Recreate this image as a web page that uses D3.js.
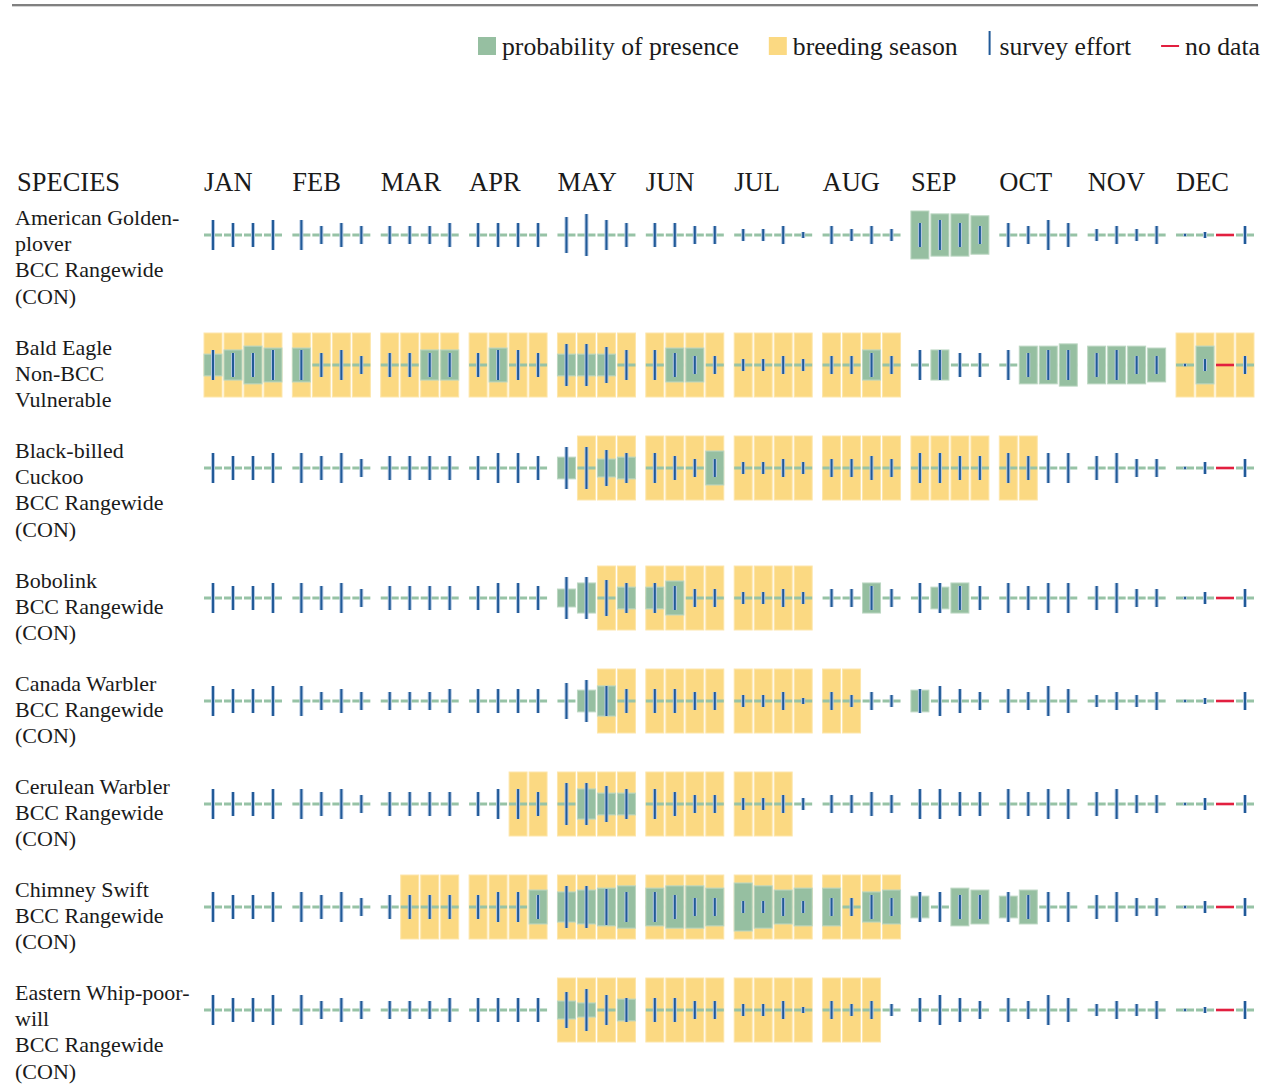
<!DOCTYPE html>
<html><head><meta charset="utf-8">
<script src="https://cdn.jsdelivr.net/npm/d3@7"></script>
<style>
body{margin:0;background:#fff}
svg{display:block}
text{font-family:"Liberation Serif","Times New Roman",serif;fill:#1a1a1a}
</style>
</head><body>
<svg id="chart" width="1272" height="1084"></svg>
<script>
// ---------------- DATA ----------------
const months = ["JAN","FEB","MAR","APR","MAY","JUN","JUL","AUG","SEP","OCT","NOV","DEC"];
const weeks = [0,1,2,3];
const headerLabel = "SPECIES";

const speciesLabels = [
  ["American Golden-","plover","BCC Rangewide","(CON)"],
  ["Bald Eagle","Non-BCC","Vulnerable"],
  ["Black-billed","Cuckoo","BCC Rangewide","(CON)"],
  ["Bobolink","BCC Rangewide","(CON)"],
  ["Canada Warbler","BCC Rangewide","(CON)"],
  ["Cerulean Warbler","BCC Rangewide","(CON)"],
  ["Chimney Swift","BCC Rangewide","(CON)"],
  ["Eastern Whip-poor-","will","BCC Rangewide","(CON)"]
];

// probability of presence per week (12 months x 4 weeks), fraction 0..1
const probGoldenPlover = [0,0,0,0, 0,0,0,0, 0,0,0,0, 0,0,0,0, 0,0,0,0, 0,0,0,0, 0,0,0,0, 0,0,0,0, .75,.66,.66,.60, 0,0,0,0, 0,0,0,0, 0,0,0,0];
const probBaldEagle    = [.34,.47,.59,.53, .53,0,0,0, 0,0,.47,.47, 0,.53,0,0, .34,.34,.34,0, 0,.53,.53,0, 0,0,0,0, 0,0,.47,0, 0,.47,0,0, 0,.59,.59,.66, .59,.59,.59,.53, 0,.59,0,0];
const probCuckoo       = [0,0,0,0, 0,0,0,0, 0,0,0,0, 0,0,0,0, .34,0,.28,.34, 0,0,0,.53, 0,0,0,0, 0,0,0,0, 0,0,0,0, 0,0,0,0, 0,0,0,0, 0,0,0,0];
const probBobolink     = [0,0,0,0, 0,0,0,0, 0,0,0,0, 0,0,0,0, .28,.47,0,.34, .34,.53,0,0, 0,0,0,0, 0,0,.47,0, 0,.34,.47,0, 0,0,0,0, 0,0,0,0, 0,0,0,0];
const probCanadaWarb   = [0,0,0,0, 0,0,0,0, 0,0,0,0, 0,0,0,0, 0,.34,.47,0, 0,0,0,0, 0,0,0,0, 0,0,0,0, .34,0,0,0, 0,0,0,0, 0,0,0,0, 0,0,0,0];
const probCeruleanWarb = [0,0,0,0, 0,0,0,0, 0,0,0,0, 0,0,0,0, 0,.47,.34,.34, 0,0,0,0, 0,0,0,0, 0,0,0,0, 0,0,0,0, 0,0,0,0, 0,0,0,0, 0,0,0,0];
const probChimneySwift = [0,0,0,0, 0,0,0,0, 0,0,0,0, 0,0,0,.53, .47,.53,.59,.66, .59,.66,.66,.59, .75,.66,.53,.59, .59,0,.47,.53, .34,0,.59,.53, .34,.53,0,0, 0,0,0,0, 0,0,0,0];
const probWhipPoorWill = [0,0,0,0, 0,0,0,0, 0,0,0,0, 0,0,0,0, .28,.22,0,.34, 0,0,0,0, 0,0,0,0, 0,0,0,0, 0,0,0,0, 0,0,0,0, 0,0,0,0, 0,0,0,0];

// survey effort per week (relative level)
const surveyGoldenPlover = [5,4,4,5, 5,3,4,3, 3,3,3,4, 4,4,4,4, 6,7,5,4, 4,4,3,3, 2,2,3,1, 3,2,3,2, 4,5,4,3, 4,3,5,4, 2,3,2,3, .4,1,0,3];
const surveyBaldEagle    = [5,4,4,5, 5,4,5,3, 4,4,4,4, 4,5,5,4, 7,7,6,5, 5,4,3,3, 2,2,3,2, 3,3,4,3, 5,5,4,4, 5,4,5,5, 4,5,3,3, .4,2,0,3];
const surveyCuckoo       = [5,4,4,5, 5,4,5,3, 4,4,4,4, 4,5,5,4, 7,7,6,5, 5,4,3,3, 2,2,3,2, 3,3,4,3, 5,5,4,4, 5,4,5,5, 4,5,3,3, .4,2,0,3];
const surveyBobolink     = [5,4,4,5, 5,4,5,3, 4,4,4,4, 4,5,5,4, 7,7,6,5, 5,4,3,3, 2,2,3,2, 3,3,4,3, 5,5,4,4, 5,4,5,5, 4,5,3,3, .4,2,0,3];
const surveyCanadaWarb   = [5,4,4,5, 5,3,4,3, 3,3,3,4, 4,4,4,4, 6,7,5,4, 4,4,3,3, 2,2,3,1, 3,2,3,2, 4,5,4,3, 4,3,5,4, 2,3,2,3, .4,1,0,3];
const surveyCeruleanWarb = [5,4,4,5, 5,4,5,3, 4,4,4,4, 4,5,5,4, 7,7,6,5, 5,4,3,3, 2,2,3,2, 3,3,4,3, 5,5,4,4, 5,4,5,5, 4,5,3,3, .4,2,0,3];
const surveyChimneySwift = [5,4,4,5, 5,4,5,3, 4,4,4,4, 4,5,5,4, 7,7,6,5, 5,4,3,3, 2,2,3,2, 3,3,4,3, 5,5,4,4, 5,4,5,5, 4,5,3,3, .4,2,0,3];
const surveyWhipPoorWill = [5,4,4,5, 5,3,4,3, 3,3,3,4, 4,4,4,4, 6,7,5,4, 4,4,3,3, 2,2,3,1, 3,2,3,2, 4,5,4,3, 4,3,5,4, 2,3,2,3, .4,1,0,3];

// breeding season flag per week
const breedGoldenPlover = [0,0,0,0, 0,0,0,0, 0,0,0,0, 0,0,0,0, 0,0,0,0, 0,0,0,0, 0,0,0,0, 0,0,0,0, 0,0,0,0, 0,0,0,0, 0,0,0,0, 0,0,0,0];
const breedBaldEagle    = [1,1,1,1, 1,1,1,1, 1,1,1,1, 1,1,1,1, 1,1,1,1, 1,1,1,1, 1,1,1,1, 1,1,1,1, 0,0,0,0, 0,0,0,0, 0,0,0,0, 1,1,1,1];
const breedCuckoo       = [0,0,0,0, 0,0,0,0, 0,0,0,0, 0,0,0,0, 0,1,1,1, 1,1,1,1, 1,1,1,1, 1,1,1,1, 1,1,1,1, 1,1,0,0, 0,0,0,0, 0,0,0,0];
const breedBobolink     = [0,0,0,0, 0,0,0,0, 0,0,0,0, 0,0,0,0, 0,0,1,1, 1,1,1,1, 1,1,1,1, 0,0,0,0, 0,0,0,0, 0,0,0,0, 0,0,0,0, 0,0,0,0];
const breedCanadaWarb   = [0,0,0,0, 0,0,0,0, 0,0,0,0, 0,0,0,0, 0,0,1,1, 1,1,1,1, 1,1,1,1, 1,1,0,0, 0,0,0,0, 0,0,0,0, 0,0,0,0, 0,0,0,0];
const breedCeruleanWarb = [0,0,0,0, 0,0,0,0, 0,0,0,0, 0,0,1,1, 1,1,1,1, 1,1,1,1, 1,1,1,0, 0,0,0,0, 0,0,0,0, 0,0,0,0, 0,0,0,0, 0,0,0,0];
const breedChimneySwift = [0,0,0,0, 0,0,0,0, 0,1,1,1, 1,1,1,1, 1,1,1,1, 1,1,1,1, 1,1,1,1, 1,1,1,1, 0,0,0,0, 0,0,0,0, 0,0,0,0, 0,0,0,0];
const breedWhipPoorWill = [0,0,0,0, 0,0,0,0, 0,0,0,0, 0,0,0,0, 1,1,1,1, 1,1,1,1, 1,1,1,1, 1,1,1,0, 0,0,0,0, 0,0,0,0, 0,0,0,0, 0,0,0,0];

// no-data flag per week (same for all species: 3rd week of December)
const noDataWeeks = [0,0,0,0, 0,0,0,0, 0,0,0,0, 0,0,0,0, 0,0,0,0, 0,0,0,0, 0,0,0,0, 0,0,0,0, 0,0,0,0, 0,0,0,0, 0,0,0,0, 0,0,1,0];

const legendLabels = ["probability of presence","breeding season","survey effort","no data"];

const probabilitySeries = [probGoldenPlover,probBaldEagle,probCuckoo,probBobolink,probCanadaWarb,probCeruleanWarb,probChimneySwift,probWhipPoorWill];
const surveySeries = [surveyGoldenPlover,surveyBaldEagle,surveyCuckoo,surveyBobolink,surveyCanadaWarb,surveyCeruleanWarb,surveyChimneySwift,surveyWhipPoorWill];
const breedingSeries = [breedGoldenPlover,breedBaldEagle,breedCuckoo,breedBobolink,breedCanadaWarb,breedCeruleanWarb,breedChimneySwift,breedWhipPoorWill];

// ---------------- STYLE / LAYOUT ----------------
const FONT = '"Liberation Serif","Times New Roman",serif';
const C = {green:"#96bfa1", greenEdge:"#bcd7c2", base:"#97c3a6", yellow:"#fbd982", yellowEdge:"#fde6ab",
           blue:"#215a98", blueHalo:"#b4c8e2", red:"#e21f3f", text:"#1a1a1a"};
const svg = d3.select("#chart");

const xMonth = d3.scaleBand().domain(months).range([204,1254]).paddingInner(0.1176).paddingOuter(0);
const xWeek = d3.scaleBand().domain(weeks).range([0, xMonth.bandwidth()]).paddingInner(0.1).paddingOuter(0);
const cellH = 64;
const yProb = d3.scaleLinear().domain([0,1]).range([0,cellH]);
const ySurvey = d3.scaleLinear().domain([0,7]).range([0,42]);

// top rule
svg.append("rect").attr("x",12).attr("y",4).attr("width",1246).attr("height",2).attr("fill","#808080");
svg.append("rect").attr("x",12).attr("y",6).attr("width",1246).attr("height",1).attr("fill","#d4d4d4");

// legend
const legend = svg.append("g").attr("transform","translate(478,0)");
let lx = 0;
legendLabels.forEach((lab,i)=>{
  const g = legend.append("g").attr("transform",`translate(${lx},0)`);
  let sw = 18;
  if(i===0) g.append("rect").attr("x",0).attr("y",37).attr("width",18).attr("height",18).attr("fill",C.green);
  if(i===1) g.append("rect").attr("x",0).attr("y",37).attr("width",18).attr("height",18).attr("fill",C.yellow);
  if(i===2){ sw = 6; g.append("rect").attr("x",1).attr("y",31).attr("width",2).attr("height",24).attr("fill",C.blue); }
  if(i===3) g.append("rect").attr("x",0).attr("y",45).attr("width",18).attr("height",2).attr("fill",C.red);
  const t = g.append("text").attr("x",sw+6).attr("y",55).attr("font-family",FONT).attr("font-size","25.7px").text(lab);
  lx += sw + 6 + t.node().getComputedTextLength() + 30;
});

// header
svg.append("text").attr("x",17).attr("y",191).attr("font-family",FONT).attr("font-size","26.5px").text(headerLabel);
svg.selectAll("text.month").data(months).join("text").attr("class","month")
  .attr("x",d=>xMonth(d)).attr("y",191).attr("font-family",FONT).attr("font-size","26.5px").text(d=>d);

// rows
let rowCursor = 203;
const rowTops = speciesLabels.map(lines=>{ const t = rowCursor; rowCursor += lines.length*27 + 22; return t; });

speciesLabels.forEach((lines,si)=>{
  const g = svg.append("g").attr("transform",`translate(0,${rowTops[si]})`);
  g.append("text").attr("font-family",FONT).attr("font-size","22px")
    .selectAll("tspan").data(lines).join("tspan")
    .attr("x",15).attr("y",(d,i)=>21.5 + i*26.4).text(d=>d);

  const cells = d3.range(48).map(i=>({
    m: months[Math.floor(i/4)], w: weeks[i%4],
    p: probabilitySeries[si][i], s: surveySeries[si][i],
    b: breedingSeries[si][i], nd: noDataWeeks[i]
  }));
  const cx = d=>xMonth(d.m)+xWeek(d.w);
  const bw = xWeek.bandwidth();
  const mid = cellH/2;

  g.selectAll("rect.breed").data(cells.filter(d=>d.b)).join("rect").attr("class","breed")
    .attr("x",cx).attr("y",0).attr("width",bw).attr("height",cellH)
    .attr("fill",C.yellow).attr("stroke",C.yellowEdge).attr("stroke-width",1);
  g.selectAll("rect.base").data(cells.filter(d=>!d.nd)).join("rect").attr("class","base")
    .attr("x",cx).attr("y",mid-1.5).attr("width",bw).attr("height",3).attr("fill",C.base);
  g.selectAll("rect.nodata").data(cells.filter(d=>d.nd)).join("rect").attr("class","nodata")
    .attr("x",cx).attr("y",mid-1.3).attr("width",bw).attr("height",2.6).attr("fill",C.red);
  g.selectAll("rect.prob").data(cells.filter(d=>d.p>0 && !d.nd)).join("rect").attr("class","prob")
    .attr("x",cx).attr("y",d=>mid-yProb(d.p)/2).attr("width",bw).attr("height",d=>yProb(d.p))
    .attr("fill",C.green).attr("stroke",C.greenEdge).attr("stroke-width",1);
  const sv = cells.filter(d=>d.s>0 && !d.nd);
  g.selectAll("rect.halo").data(sv).join("rect").attr("class","halo")
    .attr("x",d=>cx(d)+bw/2-2).attr("y",d=>mid-ySurvey(d.s)/2).attr("width",4).attr("height",d=>ySurvey(d.s))
    .attr("fill",C.blueHalo);
  g.selectAll("rect.survey").data(sv).join("rect").attr("class","survey")
    .attr("x",d=>cx(d)+bw/2-1).attr("y",d=>mid-ySurvey(d.s)/2).attr("width",2).attr("height",d=>ySurvey(d.s))
    .attr("fill",C.blue);
});
</script>
</body></html>
